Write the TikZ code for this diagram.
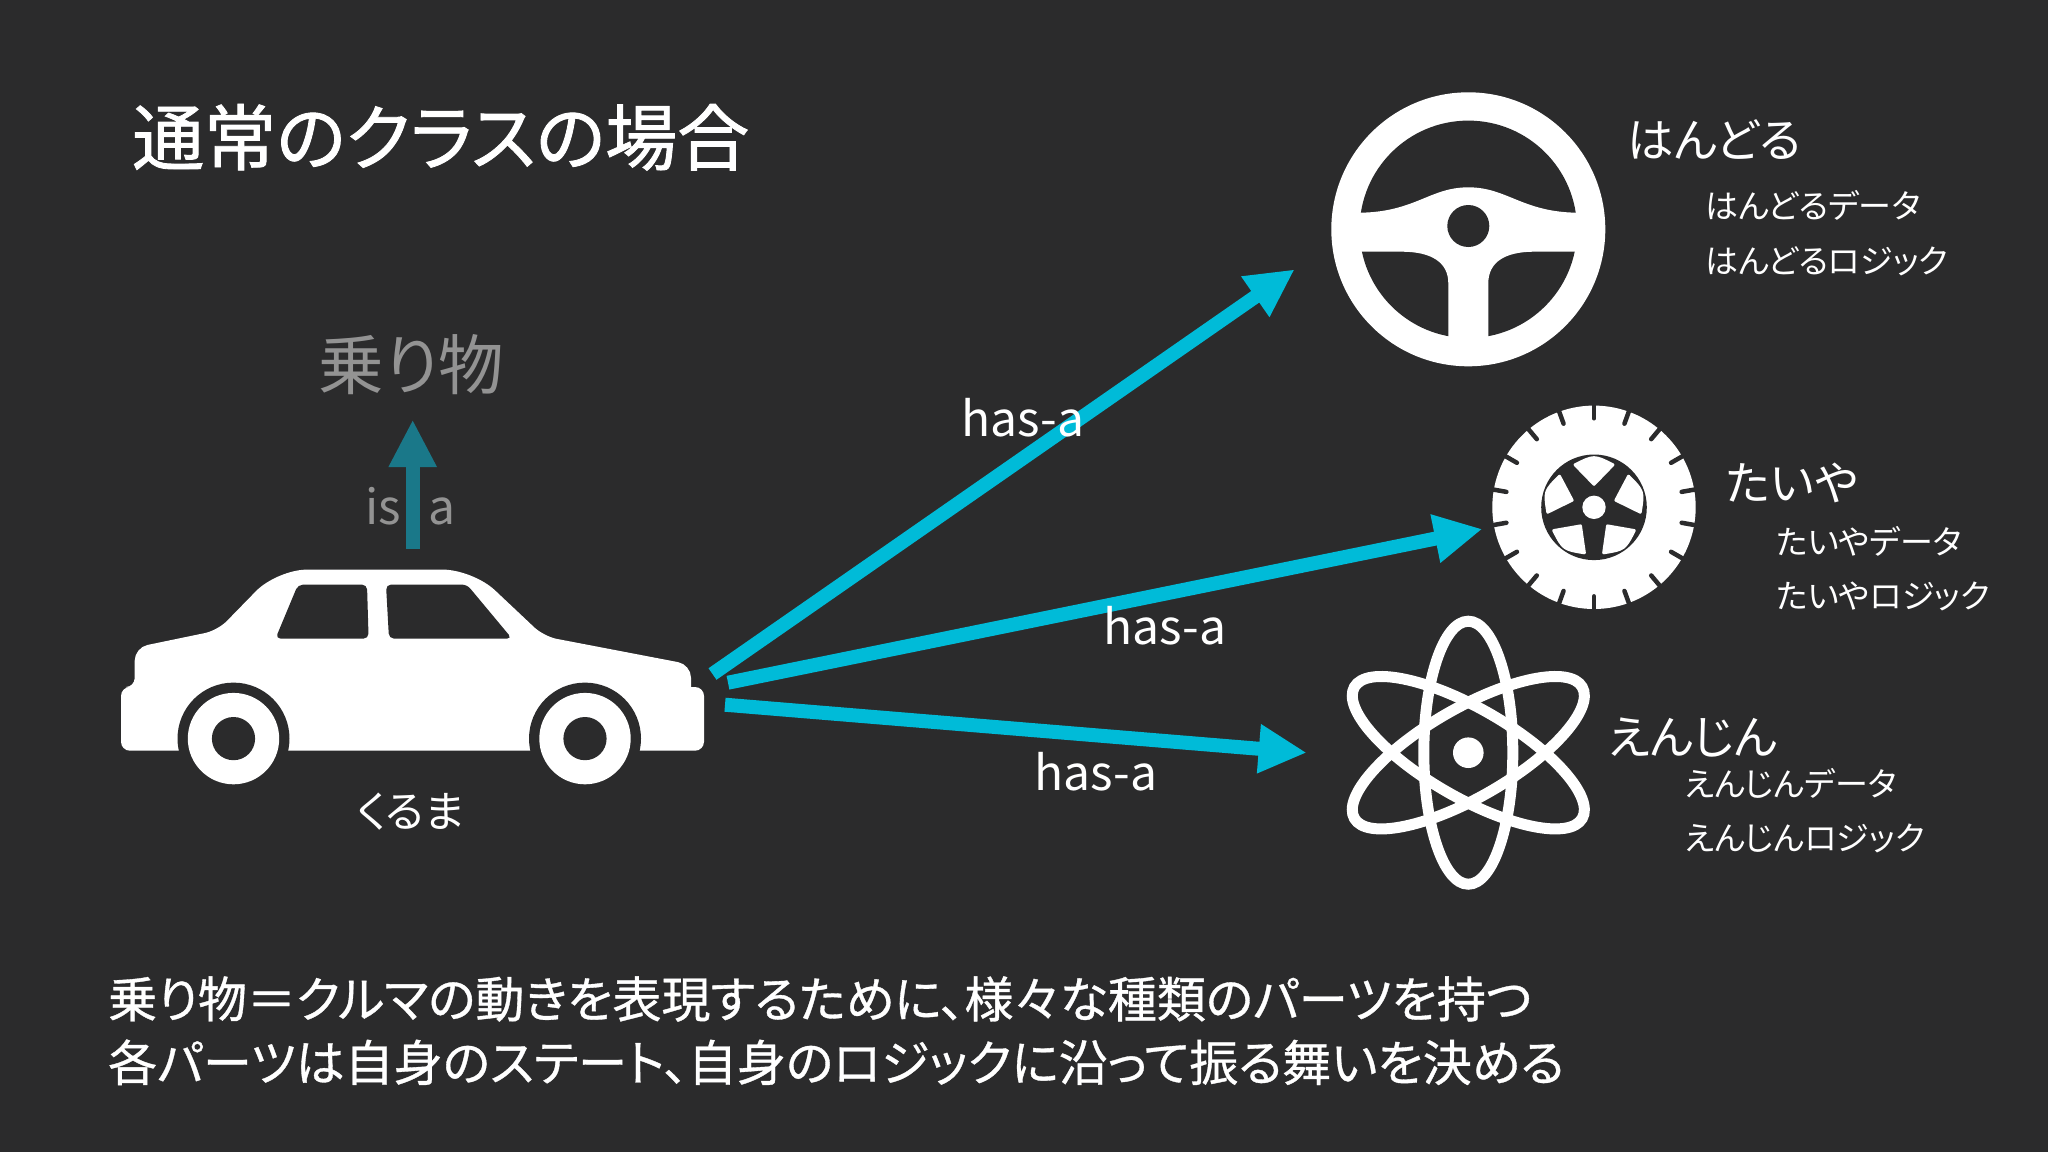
\documentclass[tikz,border=0pt]{standalone}
\usepackage{fontspec}
\setmainfont[RawFeature=+palt]{Noto Sans CJK JP}
\newfontfamily\headfont[RawFeature=+palt, FakeBold=1.2]{Noto Sans CJK JP}
\newfontfamily\bodyfont[RawFeature=+palt, FakeBold=0.7]{Noto Sans CJK JP}
\usetikzlibrary{arrows.meta,positioning}
\definecolor{slidebg}{HTML}{2B2B2C}
\definecolor{hascolor}{HTML}{00BBD8}
\definecolor{iscolor}{HTML}{1A7889}
\definecolor{fadetext}{HTML}{939393}
\tikzset{
    txt/.style={inner sep=0pt, anchor=base west, text=white, font=\fontsize{#1}{#1}\selectfont},
    ctxt/.style={txt=#1, anchor=base},
    hasa/.style={-{Triangle[length=48pt, width=46pt]}, line width=14pt, hascolor},
    isa/.style={-{Triangle[length=47.6pt, width=45pt]}, line width=14pt, iscolor},
    halo/.style={circle, inner sep=0pt, outer sep=0pt}
}
\begin{document}
\begin{tikzpicture}[x=1pt, y=-1pt]
    \fill[slidebg] (0,0) rectangle (2048,1152);
    \useasboundingbox (0,0) rectangle (2048,1152);

    \node[txt=72] (title) at (132,164.5) {\headfont 通常のクラスの場合};

    % car
    \node[minimum width=583pt, minimum height=215pt, inner sep=0pt] (car) at (412.5,677.5) {};
    \fill[white, rounded corners=9pt] (121,720) -- (121,687) -- (134.7,687) [sharp corners] -- (134.7,687)
        [rounded corners=13pt] -- (134.7,647.6) -- (217.7,630.4)
        [rounded corners=30pt] -- (277,569.6) -- (473,569.6)
        [rounded corners=13pt] -- (543.9,636.4) -- (691,664.6)
        [sharp corners] -- (691,687)
        [rounded corners=9pt] -- (704,687) -- (704,750.7) -- (121,750.7) -- cycle;
    \fill[slidebg, rounded corners=5pt] (275.5,638.6) -- (368.6,638.6) -- (367,584.6) -- (298,584.6) -- cycle;
    \fill[slidebg, rounded corners=5pt] (389,638.6) -- (512,638.6) -- (467,584.6) -- (386,584.6) -- cycle;
    \foreach \wx in {233.5,585} {
        \fill[slidebg] (\wx,738.6) circle [radius=56pt];
        \fill[white] (\wx,738.6) circle [radius=45.7pt];
        \fill[slidebg] (\wx,738.6) circle [radius=21.6pt];
    }
    \node[ctxt=43] (carlabel) at (410.5,827) {くるま};

    \node[ctxt=65.5, text=fadetext] (ride) at (411.5,389) {乗り物};
    \node[ctxt=48, text=fadetext] (isalabel) at (410.5,524.3) {is\kern8.2pt\scalebox{0.7}[1]{-}\kern7.8pt a};
    \coordinate (isatip) at (412.7,419.6);
    \draw[isa] ([xshift=0.2pt, yshift=21pt]car.north) -- (isatip);

    % steering wheel
    \node[halo, minimum size=356.4pt] (handle) at (1468.3,229.3) {};
    \fill[white] (handle.center) circle [radius=137pt];
    \fill[slidebg] (handle.center) circle [radius=108.7pt];
    \fill[white] (1345,212.7) -- (1360,212.7) .. controls (1415,212) and (1430,187.3) .. (1468.3,187.3)
        .. controls (1507,187.3) and (1522,212) .. (1577,212.7) -- (1590,212.7) -- (1590,251.7)
        -- (1533,251.7) .. controls (1505,252) and (1488.3,262) .. (1488.3,283.3) -- (1488.3,350)
        -- (1448.3,350) -- (1448.3,283.3) .. controls (1448.3,262) and (1431,252) .. (1403,251.7)
        -- (1345,251.7) -- cycle;
    \fill[slidebg] (1468.3,226) circle [radius=21pt];
    \node[txt=46.5] (handlename) at (1627.5,157) {はんどる};
    \node[txt=33] (handledata) at (1705,218) {はんどるデータ};
    \node[txt=33] (handlelogic) at (1705,273) {はんどるロジック};

    % tire
    \node[halo, minimum size=227.4pt] (tire) at (1594,507.3) {};
    \begin{scope}[shift={(1594,507.3)}]
        \fill[white] (0,0) circle [radius=101.7pt];
        \foreach \a in {10,30,...,350}
            \draw[slidebg, line width=4.5pt, line cap=round] (\a:89) -- (\a:106);
        \fill[slidebg] (0,0) circle [radius=52.8pt];
        \foreach \a in {-90,-18,54,126,198}
            \fill[white, draw=white, line width=3pt, line join=round] (\a:23)
                -- (\a-24:46.5) .. controls (\a:52) .. (\a+24:46.5) -- cycle;
        \fill[white] (0,0) circle [radius=11.7pt];
    \end{scope}
    \node[txt=46.5] (tirename) at (1726,500.5) {たいや};
    \node[txt=33] (tiredata) at (1776,554) {たいやデータ};
    \node[txt=33] (tirelogic) at (1776,608.5) {たいやロジック};

    % engine
    \node[halo, minimum size=323.2pt] (engine) at (1468.3,752.7) {};
    \foreach \r in {0,60,120}
        \draw[white, line width=11pt, rotate around={\r:(1468.3,752.7)}] (1468.3,752.7) ellipse [x radius=44.5pt, y radius=131.5pt];
    \fill[white] (engine.center) circle [radius=15.3pt];
    \node[txt=46.5] (enginename) at (1608,754) {えんじん};
    \node[txt=33] (enginedata) at (1684,796) {えんじんデータ};
    \node[txt=33] (enginelogic) at (1684,850) {えんじんロジック};

    % has-a arrows
    \coordinate (front1) at (712.5,674);
    \coordinate (front2) at (728,682.7);
    \coordinate (front3) at (725,704.7);
    \draw[hasa] (front1) -- (handle.193.5);
    \draw[hasa] (front2) -- (tire.191.9);
    \draw[hasa] (front3) -- (engine.180.2);
    \node[ctxt=48] (hasa1) at (1022.6,436) {has-a};
    \node[ctxt=48] (hasa2) at (1165,644) {has-a};
    \node[ctxt=48] (hasa3) at (1096,790) {has-a};

    \node[txt=49] (line1) at (108,1017.5) {\bodyfont 乗り物＝クルマの動きを表現するために、様々な種類のパーツを持つ};
    \node[txt=49] (line2) at (108,1081) {\bodyfont 各パーツは自身のステート、自身のロジックに沿って振る舞いを決める};
\end{tikzpicture}
\end{document}
